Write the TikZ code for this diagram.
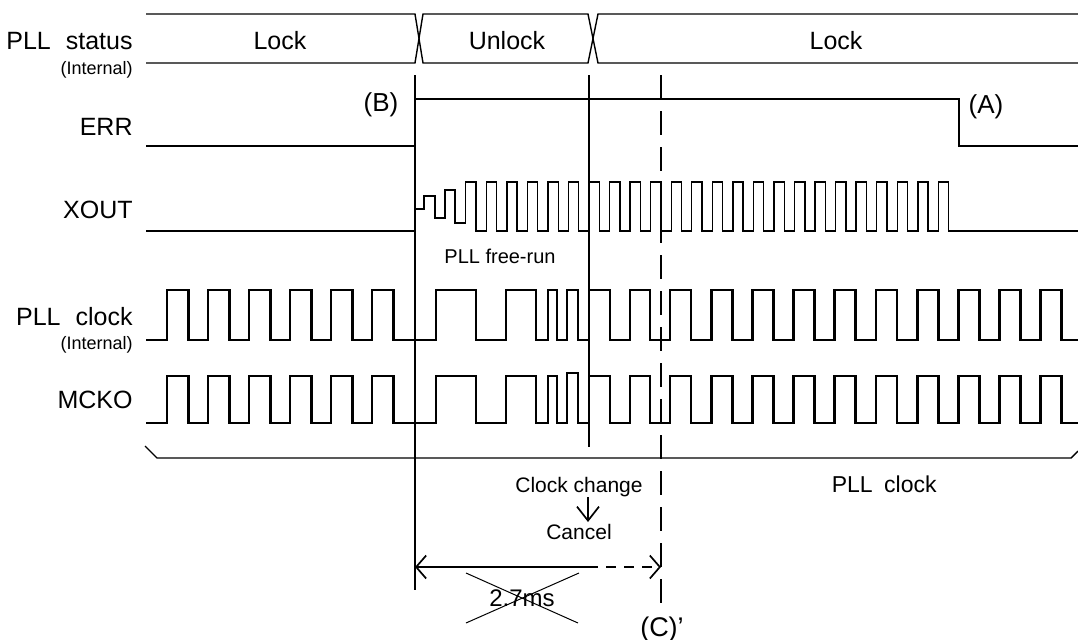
\documentclass[tikz,border=0pt]{standalone}
\usepackage{fontspec}
\setmainfont{Liberation Sans}
\usetikzlibrary{arrows.meta}
\tikzset{
  lbl/.style={anchor=base east, inner sep=0pt, font=\fontsize{12.5}{14}\selectfont},
  sublbl/.style={anchor=base east, inner sep=0pt, font=\fontsize{9}{10}\selectfont},
  txt/.style={anchor=base, inner sep=0pt, font=\fontsize{12.5}{14}\selectfont},
  notetxt/.style={anchor=base, inner sep=0pt, font=\fontsize{10.5}{12}\selectfont},
  bigtxt/.style={anchor=base, inner sep=0pt, font=\fontsize{13}{15}\selectfont},
  sig/.style={line width=0.7pt, line join=miter},
  clk/.style={line width=1.4pt, line join=miter},
  vline/.style={line width=0.85pt},
  barbtip/.tip={Straight Barb[length=5pt,width=11.5pt]},
  bigbarb/.tip={Straight Barb[length=7pt,width=11pt]}
}
\begin{document}
\begin{tikzpicture}[x=0.5pt,y=-0.5pt]
\useasboundingbox (0,0) rectangle (1078,639);
% signal labels
\node[lbl] (lstat) at (133,49) {PLL\hspace{0.6em}status};
\node[sublbl] (lstatint) at (133,74) {(Internal)};
\node[lbl] (lerr) at (133,135) {ERR};
\node[lbl] (lxout) at (133,218) {XOUT};
\node[lbl] (lclk) at (133,325) {PLL\hspace{0.6em}clock};
\node[sublbl] (lclkint) at (133,349) {(Internal)};
\node[lbl] (lmcko) at (133,408) {MCKO};
% status band
\draw[sig] (146,14) -- (415,14) -- (423,63) -- (588,63) -- (598,14) -- (1078,14);
\draw[sig] (146,63) -- (415,63) -- (423,14) -- (588,14) -- (598,63) -- (1078,63);
\node[txt] (lock1) at (280,49) {Lock};
\node[txt] (unlock) at (507,49) {Unlock};
\node[txt] (lock2) at (836,49) {Lock};
% ERR
\draw[sig] (146,146) -- (415,146) -- (415,99) -- (959,99) -- (959,146) -- (1078,146);
\node[bigtxt] (B) at (381,111) {(B)};
\node[bigtxt] (A) at (986,113) {(A)};
% XOUT
\draw[sig] (146,231) -- (415,231) -- (415,209) -- (424,209) -- (424,196) -- (435,196)
  -- (435,218) -- (445,218) -- (445,190) -- (455,190) -- (455,223) -- (465.7,223)
  -- (465.7,182) -- (476,182) -- (476,231)
  \foreach \i in {1,...,23} { -- ({465.7+20.55*\i},231) -- ({465.7+20.55*\i},182)
    -- ({476+20.55*\i},182) -- ({476+20.55*\i},231) } -- (1078,231);
\node[anchor=base, inner sep=0pt, font=\fontsize{10}{12}\selectfont] (free) at (500,263) {PLL free-run};
% PLL clock
\draw[clk] (146,340)
  \foreach \r in {167,208,249,290,331,372} { -- (\r,340) -- (\r,290) -- (\r+21.5,290) -- (\r+21.5,340) }
  -- (436,340) -- (436,290) -- (476,290) -- (476,340) -- (506,340) -- (506,290) -- (536,290)
  -- (536,340) -- (548,340) -- (548,290) -- (557,290) -- (557,340) -- (567,340) -- (567,290)
  -- (578,290) -- (578,340) -- (589,340) -- (589,290) -- (610,290) -- (610,340) -- (630,340)
  -- (630,290) -- (650,290) -- (650,340)
  \foreach \i in {0,...,9} { -- ({670+41.2*\i},340) -- ({670+41.2*\i},290) -- ({691+41.2*\i},290) -- ({691+41.2*\i},340) }
  -- (1078,340);
% MCKO
\draw[clk] (146,423)
  \foreach \r in {167,208,249,290,331,372} { -- (\r,423) -- (\r,376) -- (\r+21.5,376) -- (\r+21.5,423) }
  -- (436,423) -- (436,376) -- (476,376) -- (476,423) -- (506,423) -- (506,376) -- (536,376)
  -- (536,423) -- (548,423) -- (548,376) -- (557,376) -- (557,423) -- (567,423) -- (567,373)
  -- (578,373) -- (578,423) -- (589,423) -- (589,376) -- (610,376) -- (610,423) -- (630,423)
  -- (630,376) -- (650,376) -- (650,423)
  \foreach \i in {0,...,9} { -- ({670+41.2*\i},423) -- ({670+41.2*\i},376) -- ({691+41.2*\i},376) -- ({691+41.2*\i},423) }
  -- (1078,423);
% bracket
\draw[sig] (145,446) -- (157,458) -- (1071,458) -- (1078,451);
% vertical markers
\draw[vline] (415,75) -- (415,590);
\draw[vline] (589,75) -- (589,447);
\draw[vline, dash pattern=on 12pt off 6pt] (661,75) -- (661,603);
% notes
\node[notetxt] (cc) at (579,492) {Clock change};
\node[notetxt] (cancel) at (579,539) {Cancel};
\coordinate (ccA) at (588,497);
\coordinate (ccB) at (588,522);
\draw[vline,-bigbarb] (ccA) -- (ccB);
\node[anchor=base east, inner sep=0pt, font=\fontsize{11.5}{13}\selectfont] (pllclk) at (937,492) {PLL\hspace{0.5em}clock};
% dimension
\coordinate (dimL) at (415,567);
\coordinate (dimM) at (588,567);
\coordinate (dimR) at (661,567);
\draw[vline, barbtip-] (dimL) -- (dimM);
\draw[vline, dash pattern=on 5pt off 4pt, -barbtip] (dimM) -- (dimR);
\node[anchor=base, inner sep=0pt, font=\fontsize{12}{14}\selectfont] (ms) at (522,606) {2.7ms};
\draw[line width=0.5pt] (466,573) -- (578,623) (466,623) -- (579,573);
\node[anchor=base, inner sep=0pt, font=\fontsize{13.5}{15}\selectfont] (C) at (662,636) {(C)’};
\end{tikzpicture}
\end{document}
